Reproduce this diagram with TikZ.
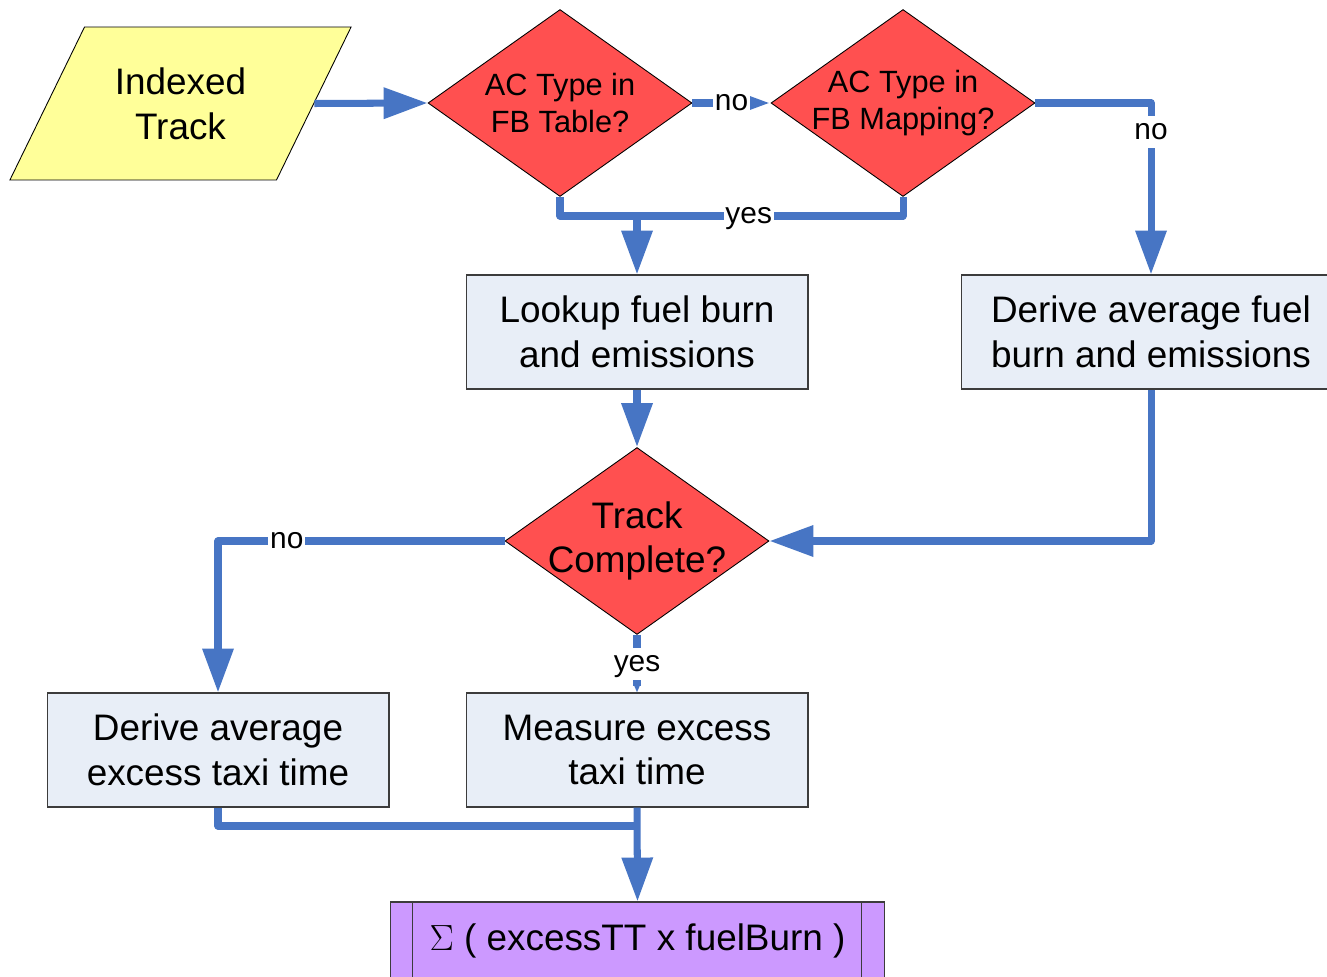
\documentclass[tikz,border=0pt]{standalone}
\usepackage{fontspec}
\setmainfont{Liberation Sans}
\usetikzlibrary{shapes.geometric,arrows.meta}
\definecolor{flowblue}{RGB}{71,117,196}
\definecolor{diared}{RGB}{255,80,80}
\definecolor{ioyellow}{RGB}{255,255,153}
\definecolor{procfill}{RGB}{232,238,247}
\definecolor{sumfill}{RGB}{204,153,255}
\definecolor{edgegray}{RGB}{60,60,60}
\begin{document}
\begin{tikzpicture}[x=0.02cm,y=-0.02cm,
	io/.style={trapezium, trapezium left angle=64, trapezium right angle=116, trapezium stretches=false, draw=black, line width=0.5pt, fill=ioyellow, inner xsep=0pt, inner ysep=0.23cm, font=\fontsize{21}{25.5}\selectfont},
	decision/.style={diamond, draw=black, line width=0.5pt, fill=diared, minimum width=5.28cm, minimum height=3.74cm, inner sep=0pt},
	dtext/.style={align=center, font=\fontsize{17.5}{21}\selectfont},
	process/.style={rectangle, draw=edgegray, line width=0.6pt, fill=procfill, minimum width=6.84cm, minimum height=2.28cm, align=center, font=\fontsize{21}{25.5}\selectfont},
	predef/.style={rectangle, draw=edgegray, line width=0.6pt, fill=sumfill, minimum width=9.9cm, minimum height=1.56cm, font=\fontsize{21}{25.5}\selectfont},
	line/.style={draw=flowblue, line width=4pt, line join=round},
	flow/.style={line, -{Triangle[length=25pt,width=17pt]}},
	lbl/.style={fill=white, inner sep=1pt, text height=12.5pt, text depth=3.7pt, font=\fontsize{17}{20}\selectfont}]
	\useasboundingbox (0,0) rectangle (1327,976);

	\node[io] (track) at (180.5,103.5) {\parbox[c][2.6cm][c]{3.84cm}{\centering Indexed\\Track}};
	\node[decision, label={[dtext]center:{AC Type in\\FB Table?}}] (fbtable) at (560,103) {};
	\node[decision, label={[dtext]center:{AC Type in\\FB Mapping?}}] (fbmap) at (903,103) {};
	\node[process] (lookup) at (637,332) {Lookup fuel burn\\and emissions};
	\node[process, minimum width=7.6cm] (avgfuel) at (1151,332) {Derive average fuel\\burn and emissions};
	\node[decision, label={[dtext, font=\fontsize{21}{25.5}\selectfont]center:{Track\\Complete?}}] (complete) at (637,541) {};
	\node[process] (avgtaxi) at (218,750) {Derive average\\excess taxi time};
	\node[process] (measure) at (637,750) {Measure excess\\taxi time};
	\node[predef] (sum) at (637.5,941) {$\Sigma$ ( excessTT x fuelBurn )};
	\draw[edgegray, line width=0.6pt] ([xshift=0.46cm]sum.north west) -- ([xshift=0.46cm]sum.south west);
	\draw[edgegray, line width=0.6pt] ([xshift=-0.48cm]sum.north east) -- ([xshift=-0.48cm]sum.south east);

	\coordinate (join) at (637,216);
	\coordinate (merge) at (637,826);

	\draw[flow] (track.east) -- (fbtable.west);
	\draw[line, -{Triangle[length=12pt,width=7pt]}] (fbtable.east) -- node[lbl] {no} (fbmap.west);
	\draw[line] (fbtable.south) |- (join);
	\draw[line] (fbmap.south) |- node[lbl, pos=0.79] {yes} (join);
	\draw[flow] (join) -- (lookup.north);
	\draw[flow] (fbmap.east) -| node[lbl, pos=0.585] {no} (avgfuel.north);
	\draw[flow] (lookup.south) -- (complete.north);
	\draw[flow] (avgfuel.south) |- (complete.east);
	\draw[flow] (complete.west) -| node[lbl, pos=0.38] {no} (avgtaxi.north);
	\draw[line, -{Triangle[length=4pt,width=3pt]}] (complete.south) -- node[lbl] {yes} (measure.north);
	\draw[line] (avgtaxi.south) |- (merge);
	\draw[flow] (measure.south) -- (sum.north);
\end{tikzpicture}
\end{document}
